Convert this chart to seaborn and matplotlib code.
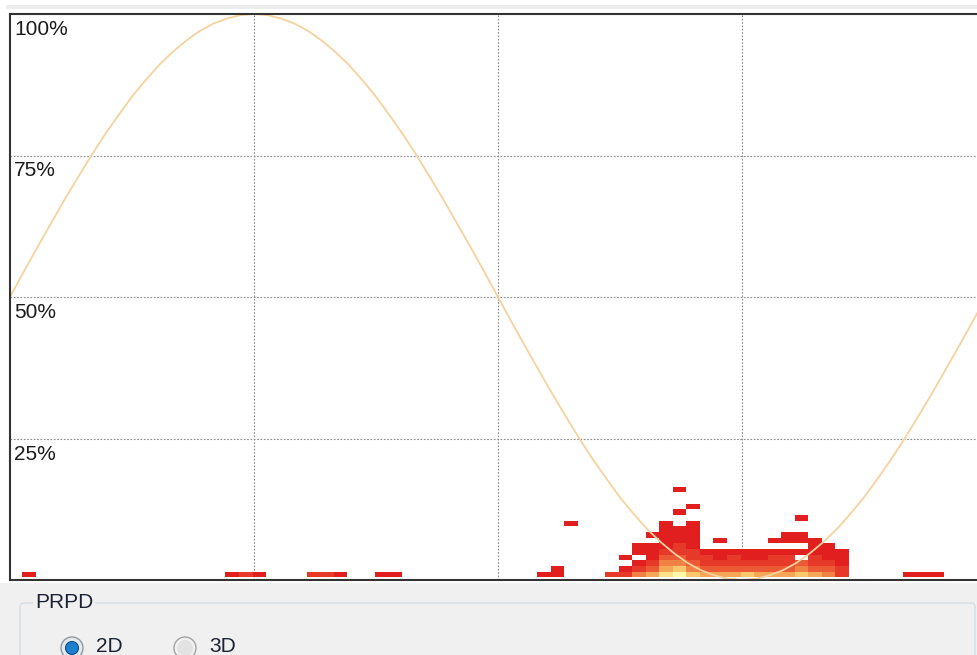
import numpy as np
import pandas as pd
import matplotlib
matplotlib.use("Agg")
import matplotlib.pyplot as plt
from matplotlib.colors import LinearSegmentedColormap
from matplotlib.patches import Rectangle, FancyBboxPatch, Circle
import seaborn as sns

# ---------------- data ----------------
# PRPD cells: phase bin start (deg, 5-degree bins), amplitude (% of full scale, 1 % rows), pulse count
phase_deg = [
    5, 80, 85, 90, 110, 115, 120, 135, 140,
    195, 200, 200, 205,
    220, 225, 225, 225,
    230, 230, 230, 230, 230,
    235, 235, 235, 235, 235, 235, 235,
    240, 240, 240, 240, 240, 240, 240, 240, 240, 240,
    245, 245, 245, 245, 245, 245, 245, 245, 245, 245, 245,
    250, 250, 250, 250, 250, 250, 250, 250, 250, 250, 250,
    255, 255, 255, 255, 255,
    260, 260, 260, 260, 260, 260,
    265, 265, 265, 265, 265,
    270, 270, 270, 270, 270,
    275, 275, 275, 275, 275,
    280, 280, 280, 280, 280, 280,
    285, 285, 285, 285, 285, 285, 285,
    290, 290, 290, 290, 290, 290, 290,
    295, 295, 295, 295, 295, 295, 295,
    300, 300, 300, 300, 300, 300,
    305, 305, 305, 305, 305,
    330, 335, 340,
]
amplitude_pct = [
    1, 1, 1, 1, 1, 1, 1, 1, 1,
    1, 1, 2, 10,
    1, 1, 2, 4,
    1, 2, 3, 5, 6,
    1, 2, 3, 4, 5, 6, 8,
    1, 2, 3, 4, 5, 6, 7, 8, 9, 10,
    1, 2, 3, 4, 5, 6, 7, 8, 9, 12, 16,
    1, 2, 3, 4, 5, 6, 7, 8, 9, 10, 13,
    1, 2, 3, 4, 5,
    1, 2, 3, 4, 5, 7,
    1, 2, 3, 4, 5,
    1, 2, 3, 4, 5,
    1, 2, 3, 4, 5,
    1, 2, 3, 4, 5, 7,
    1, 2, 3, 4, 5, 7, 8,
    1, 2, 3, 5, 7, 8, 11,
    1, 2, 3, 4, 5, 6, 7,
    1, 2, 3, 4, 5, 6,
    1, 2, 3, 4, 5,
    1, 1, 1,
]
pulse_count = [
    1, 1, 2, 1, 2, 2, 1, 1, 1,
    1, 1, 1, 1,
    2, 2, 1, 1,
    4, 2, 1, 1, 1,
    5, 3, 2, 1, 1, 1, 1,
    7, 5, 4, 3, 2, 1, 1, 1, 1, 1,
    8, 6, 4, 3, 2, 2, 1, 1, 1, 1, 1,
    6, 4, 3, 2, 2, 1, 1, 1, 1, 1, 1,
    5, 3, 2, 2, 1,
    5, 3, 2, 1, 1, 1,
    5, 3, 2, 2, 1,
    6, 3, 2, 1, 1,
    5, 3, 2, 1, 1,
    5, 3, 2, 2, 1, 1,
    5, 3, 2, 2, 1, 1, 1,
    6, 4, 3, 1, 1, 1, 1,
    5, 3, 2, 2, 1, 1, 1,
    4, 3, 2, 1, 1, 1,
    2, 2, 1, 1, 1,
    1, 1, 1,
]

# reference sine (supply voltage phase), % of full scale, every 5 degrees
sine_phase = list(range(0, 365, 5))
sine_pct = [
    50.0, 54.4, 58.7, 62.9, 67.1, 71.1, 75.0, 78.7, 82.1, 85.4, 88.3, 91.0, 93.3, 95.3, 97.0, 98.3, 99.2, 99.8,
    100.0, 99.8, 99.2, 98.3, 97.0, 95.3, 93.3, 91.0, 88.3, 85.4, 82.1, 78.7, 75.0, 71.1, 67.1, 62.9, 58.7, 54.4,
    50.0, 45.6, 41.3, 37.1, 32.9, 28.9, 25.0, 21.3, 17.9, 14.6, 11.7, 9.0, 6.7, 4.7, 3.0, 1.7, 0.8, 0.2,
    0.0, 0.2, 0.8, 1.7, 3.0, 4.7, 6.7, 9.0, 11.7, 14.6, 17.9, 21.3, 25.0, 28.9, 32.9, 37.1, 41.3, 45.6,
    50.0,
]
y_labels = ["100%", "75%", "50%", "25%"]
y_label_pos = [100, 75, 50, 25]
group_title = "PRPD"
radio_labels = ["2D", "3D"]

# ---------------- figure ----------------
sns.set_style("white")
plt.rcParams["font.family"] = ["Liberation Sans", "DejaVu Sans"]

W, H = 977, 655
fig = plt.figure(figsize=(W / 100, H / 100), dpi=100)
fig.patch.set_facecolor("#f0f0f0")

# window / UI layer (pixel coordinates)
ui = fig.add_axes([0, 0, 1, 1], zorder=0)
ui.set_xlim(0, W)
ui.set_ylim(H, 0)
ui.axis("off")
ui.add_patch(Rectangle((0, 0), W, 583, color="white", lw=0))
ui.add_patch(Rectangle((0, 583), W, H - 583, color="#f0f0f0", lw=0))
ui.add_patch(Rectangle((6, 5), W - 6, 4, color="#ececec", lw=0))
ui.add_patch(FancyBboxPatch((20, 603), 955, 90, boxstyle="round,pad=0,rounding_size=4",
                            fc="#f0f0f0", ec="#d6dde3", lw=1.0))
ui.text(35, 603, group_title, ha="left", va="center", fontsize=15, color="#1c2233",
        bbox=dict(fc="#f0f0f0", ec="none", pad=1.5))
# radio buttons
ui.add_patch(Circle((72, 648), 11.0, fc="#e6e9ec", ec="#8f969c", lw=1.0))
ui.add_patch(Circle((72, 648), 6.5, fc="#1f7fcf", ec="#0e4f86", lw=0.8))
ui.add_patch(Circle((185, 648), 11.0, fc="#f1f1f1", ec="#a3a3a3", lw=1.0))
ui.add_patch(Circle((185, 648), 8.0, fc="#e2e2e2", ec="none"))
ui.text(96, 637, radio_labels[0], ha="left", va="top", fontsize=15, color="#1c2233")
ui.text(209, 637, radio_labels[1], ha="left", va="top", fontsize=15, color="#1c2233")

# plot area
left, right, top, bottom = 10, 986, 14, 580
pos = [left / W, (H - bottom) / H, (right - left) / W, (bottom - top) / H]

# background axis with dotted grid
ax_bg = fig.add_axes(pos, zorder=1)
ax_bg.set_facecolor("white")
ax_bg.set_xlim(0, 360)
ax_bg.set_ylim(0, 100)
for xv in (90, 180, 270):
    ax_bg.axvline(xv, color="#8a8a8a", lw=0.8, ls=(0, (1.5, 1.5)))
for yv in (25, 50, 75):
    ax_bg.axhline(yv, color="#8a8a8a", lw=0.8, ls=(0, (1.5, 1.5)))
ax_bg.set_xticks([])
ax_bg.set_yticks([])
for s in ax_bg.spines.values():
    s.set_visible(False)

# heatmap layer
counts = np.zeros((101, 72))
for p, a, n in zip(phase_deg, amplitude_pct, pulse_count):
    counts[a, p // 5] = n
df = pd.DataFrame(counts, index=range(101), columns=range(0, 360, 5))

cmap = LinearSegmentedColormap.from_list(
    "prpd", ["#e21f1f", "#e6392a", "#ec5a35", "#f18245", "#f5a657", "#f9c86d", "#fce28a", "#fef8aa"])

ax_hm = fig.add_axes(pos, zorder=2)
ax_hm.patch.set_alpha(0)
sns.heatmap(df, ax=ax_hm, mask=(counts == 0), cmap=cmap, vmin=1, vmax=8, cbar=False,
            xticklabels=False, yticklabels=False, linewidths=0)
ax_hm.set_xlim(0.11, 72.11)
ax_hm.set_ylim(0.5, 100.5)
ax_hm.set_xticks([])
ax_hm.set_yticks([])
ax_hm.set_xlabel("")
ax_hm.set_ylabel("")
for s in ax_hm.spines.values():
    s.set_visible(False)

# top layer: sine, frame, labels
ax_top = fig.add_axes(pos, zorder=3)
ax_top.patch.set_alpha(0)
sns.lineplot(x=sine_phase, y=sine_pct, ax=ax_top, color="#f7d29c", lw=1.3, zorder=2)
ax_top.set_xlim(0, 360)
ax_top.set_ylim(0, 100)
ax_top.set_xticks([])
ax_top.set_yticks([])
ax_top.set_xlabel("")
ax_top.set_ylabel("")
for s in ax_top.spines.values():
    s.set_visible(True)
    s.set_color("#333333")
    s.set_linewidth(1.5)
for lab, yv in zip(y_labels, y_label_pos):
    ax_top.annotate(lab, xy=(0, yv), xytext=(4, -6), textcoords="offset pixels",
                    ha="left", va="top", fontsize=15, color="#1a1a1a")

fig.savefig("out.png", dpi=100, facecolor=fig.get_facecolor())
